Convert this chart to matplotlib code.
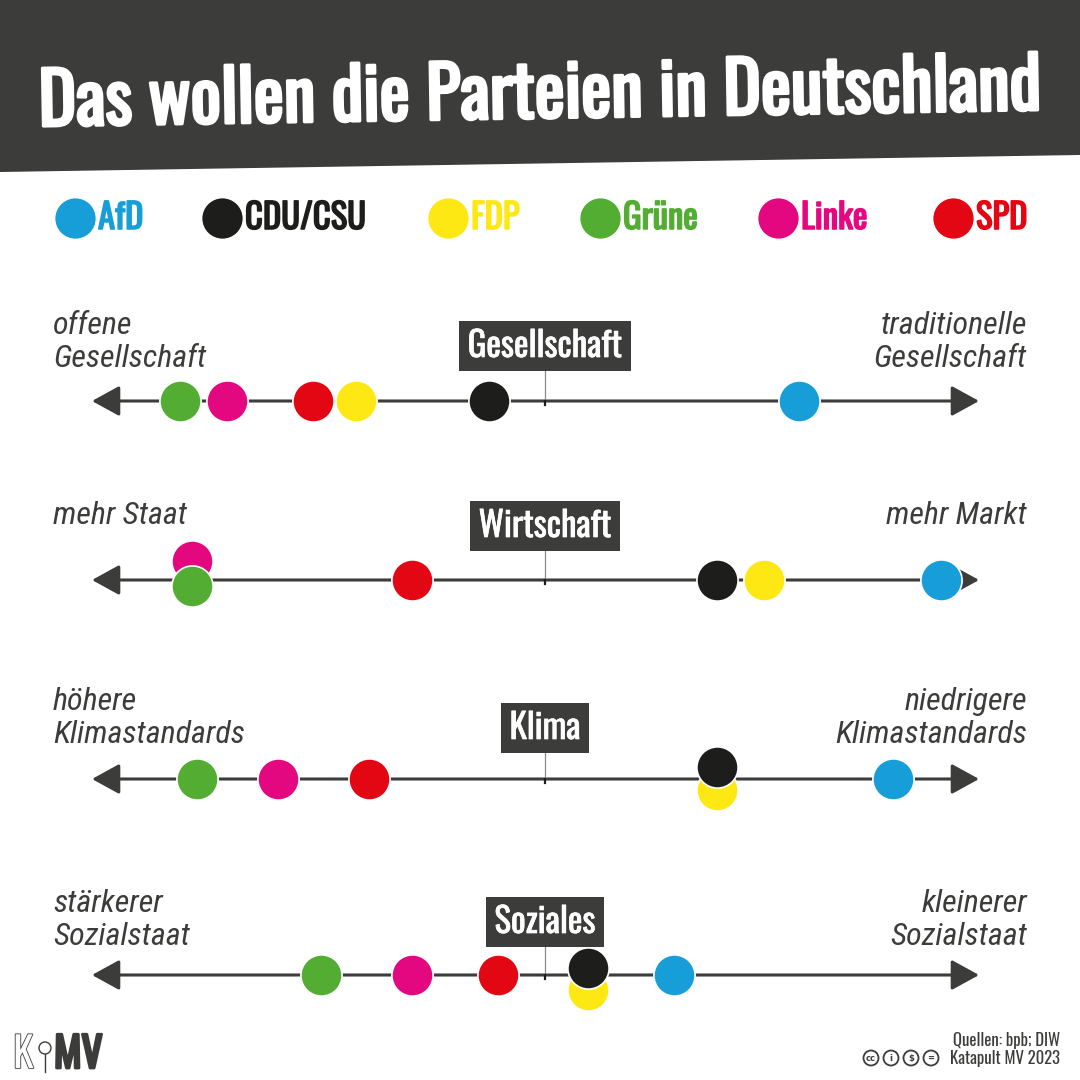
import matplotlib
matplotlib.use("Agg")
import matplotlib.pyplot as plt
from matplotlib.patches import Polygon, Circle
import matplotlib.patheffects as pe

HEAD = ['Oswald', 'Roboto Condensed', 'DejaVu Sans']
ITAL = ['Roboto Condensed', 'DejaVu Sans']
plt.rcParams['font.family'] = HEAD

DARK = "#3c3c3b"

# ==========================================
# data
# ==========================================
parties = ["AfD", "CDU/CSU", "FDP", "Grüne", "Linke", "SPD"]
party_colors = ["#179ed9", "#1d1d1b", "#fde814", "#52ad32", "#e3087f", "#e30613"]

dimensions = ["Gesellschaft", "Wirtschaft", "Klima", "Soziales"]
left_labels = [["offene", "Gesellschaft"], ["mehr Staat"],
               ["höhere", "Klimastandards"], ["stärkerer", "Sozialstaat"]]
right_labels = [["traditionelle", "Gesellschaft"], ["mehr Markt"],
                ["niedrigere", "Klimastandards"], ["kleinerer", "Sozialstaat"]]

# positions on a scale -10 (left) .. +10 (right), party order as above
gesellschaft = [5.9, -1.3, -4.4, -8.5, -7.4, -5.4]
wirtschaft = [9.2, 4.0, 5.1, -8.2, -8.2, -3.1]
klima = [8.1, 4.0, 4.0, -8.1, -6.2, -4.1]
soziales = [3.0, 1.0, 1.0, -5.2, -3.1, -1.1]
positions = [gesellschaft, wirtschaft, klima, soziales]

sources = "Quellen: bpb; DIW"
credit = "Katapult MV 2023"

# ==========================================
# layout (pixel space, 1080 x 1080)
# ==========================================
row_y = [401, 580, 779, 975]
box_y = [346, 526, 728, 922]
label_base = [367, 524, 743, 945]
# overlapping circles: party -> (dy in px, zorder)
stack = [{}, {"Linke": (-19, 5), "Grüne": (6, 6)},
         {"FDP": (11, 5), "CDU/CSU": (-12, 6)},
         {"FDP": (15, 5), "CDU/CSU": (-7, 6)}]

fig = plt.figure(figsize=(10.8, 10.8), dpi=100)
fig.patch.set_facecolor("white")

bg = fig.add_axes([0, 0, 1, 1])
bg.set_xlim(0, 1080)
bg.set_ylim(1080, 0)
bg.axis("off")

# data axes: x in value units (-10..10 -> 115..975 px)
ax = fig.add_axes([0, 0, 1, 1])
ax.set_xlim(-10 - 115 / 43, 10 + 105 / 43)
ax.set_ylim(1080, 0)
ax.axis("off")
ax.patch.set_alpha(0)

# header
bg.add_patch(Polygon([(0, 0), (1080, 0), (1080, 155), (0, 172)], closed=True,
                     facecolor=DARK, edgecolor="none"))
bg.text(540, 96, "Das wollen die Parteien in Deutschland", color="white",
        fontsize=51.5, fontweight="bold", ha="center", va="center",
        rotation=0.93, rotation_mode="anchor",
        path_effects=[pe.withStroke(linewidth=2.2, foreground="white")])

# legend
leg_x = [75, 222, 448, 600, 778, 953]
for name, col, lx in zip(parties, party_colors, leg_x):
    bg.scatter([lx], [218], s=900, color=col, edgecolors="white", linewidths=1, zorder=3)
    bg.text(lx + 23, 218, name, color=col, fontsize=25, fontweight="bold",
            ha="left", va="center",
            path_effects=[pe.withStroke(linewidth=1.1, foreground=col)])

# rows
for i, dim in enumerate(dimensions):
    y = row_y[i]
    bg.annotate("", xy=(979, y), xytext=(92, y),
                arrowprops=dict(arrowstyle="<|-|>,head_length=1.0,head_width=0.55",
                                mutation_scale=17, color=DARK, lw=2.2,
                                shrinkA=0, shrinkB=0), zorder=1)
    # center connector
    bg.plot([545, 545], [box_y[i] + 22, y], color="#8a8a8a", lw=0.9, zorder=1)
    bg.plot([545, 545], [y, y + 4], color="#1d1d1b", lw=1.6, zorder=1)
    bg.text(545, box_y[i], dim, color="white", fontsize=25, fontweight="bold",
            ha="center", va="center", zorder=4,
            path_effects=[pe.withStroke(linewidth=0.5, foreground="white")],
            bbox=dict(boxstyle="square,pad=0.24", facecolor=DARK, edgecolor="none"))
    # side labels
    for side, lines in (("left", left_labels[i]), ("right", right_labels[i])):
        xx = 53 if side == "left" else 1027
        n = len(lines)
        for k, line in enumerate(lines):
            bg.text(xx, label_base[i] - (n - 1 - k) * 33, line, color=DARK,
                    fontsize=23, style="italic", fontweight="normal", family=ITAL,
                    ha=side, va="baseline")
    # circles
    for p, col, v in zip(parties, party_colors, positions[i]):
        dy, z = stack[i].get(p, (0, 4))
        ax.scatter([v], [y + dy], s=880, color=col, edgecolors="white",
                   linewidths=1.2, zorder=z)

# footer
bg.text(1060, 1046, sources, color=DARK, fontsize=12, ha="right", va="baseline")
bg.text(1060, 1064, credit, color=DARK, fontsize=12, ha="right", va="baseline")
for cx, sym in zip([871, 891, 911, 931], ["cc", "i", "$", "="]):
    bg.add_patch(Circle((cx, 1058), 7.5, facecolor="white", edgecolor=DARK, lw=1.3))
    bg.text(cx, 1058.5, sym, color=DARK, fontsize=6, fontweight="bold",
            ha="center", va="center", family="DejaVu Sans")

# logo
bg.text(13, 1068, "K", color="white", fontsize=30, ha="left", va="baseline",
        path_effects=[pe.withStroke(linewidth=1.2, foreground=DARK)])
bg.add_patch(Circle((45, 1048), 6, facecolor="white", edgecolor=DARK, lw=1.0))
bg.plot([45, 45], [1054, 1072], color=DARK, lw=1.0)
bg.text(54, 1068, "MV", color=DARK, fontsize=30, fontweight="bold",
        ha="left", va="baseline",
        path_effects=[pe.withStroke(linewidth=2.0, foreground=DARK)])

fig.savefig("out.png", dpi=100, facecolor="white")
